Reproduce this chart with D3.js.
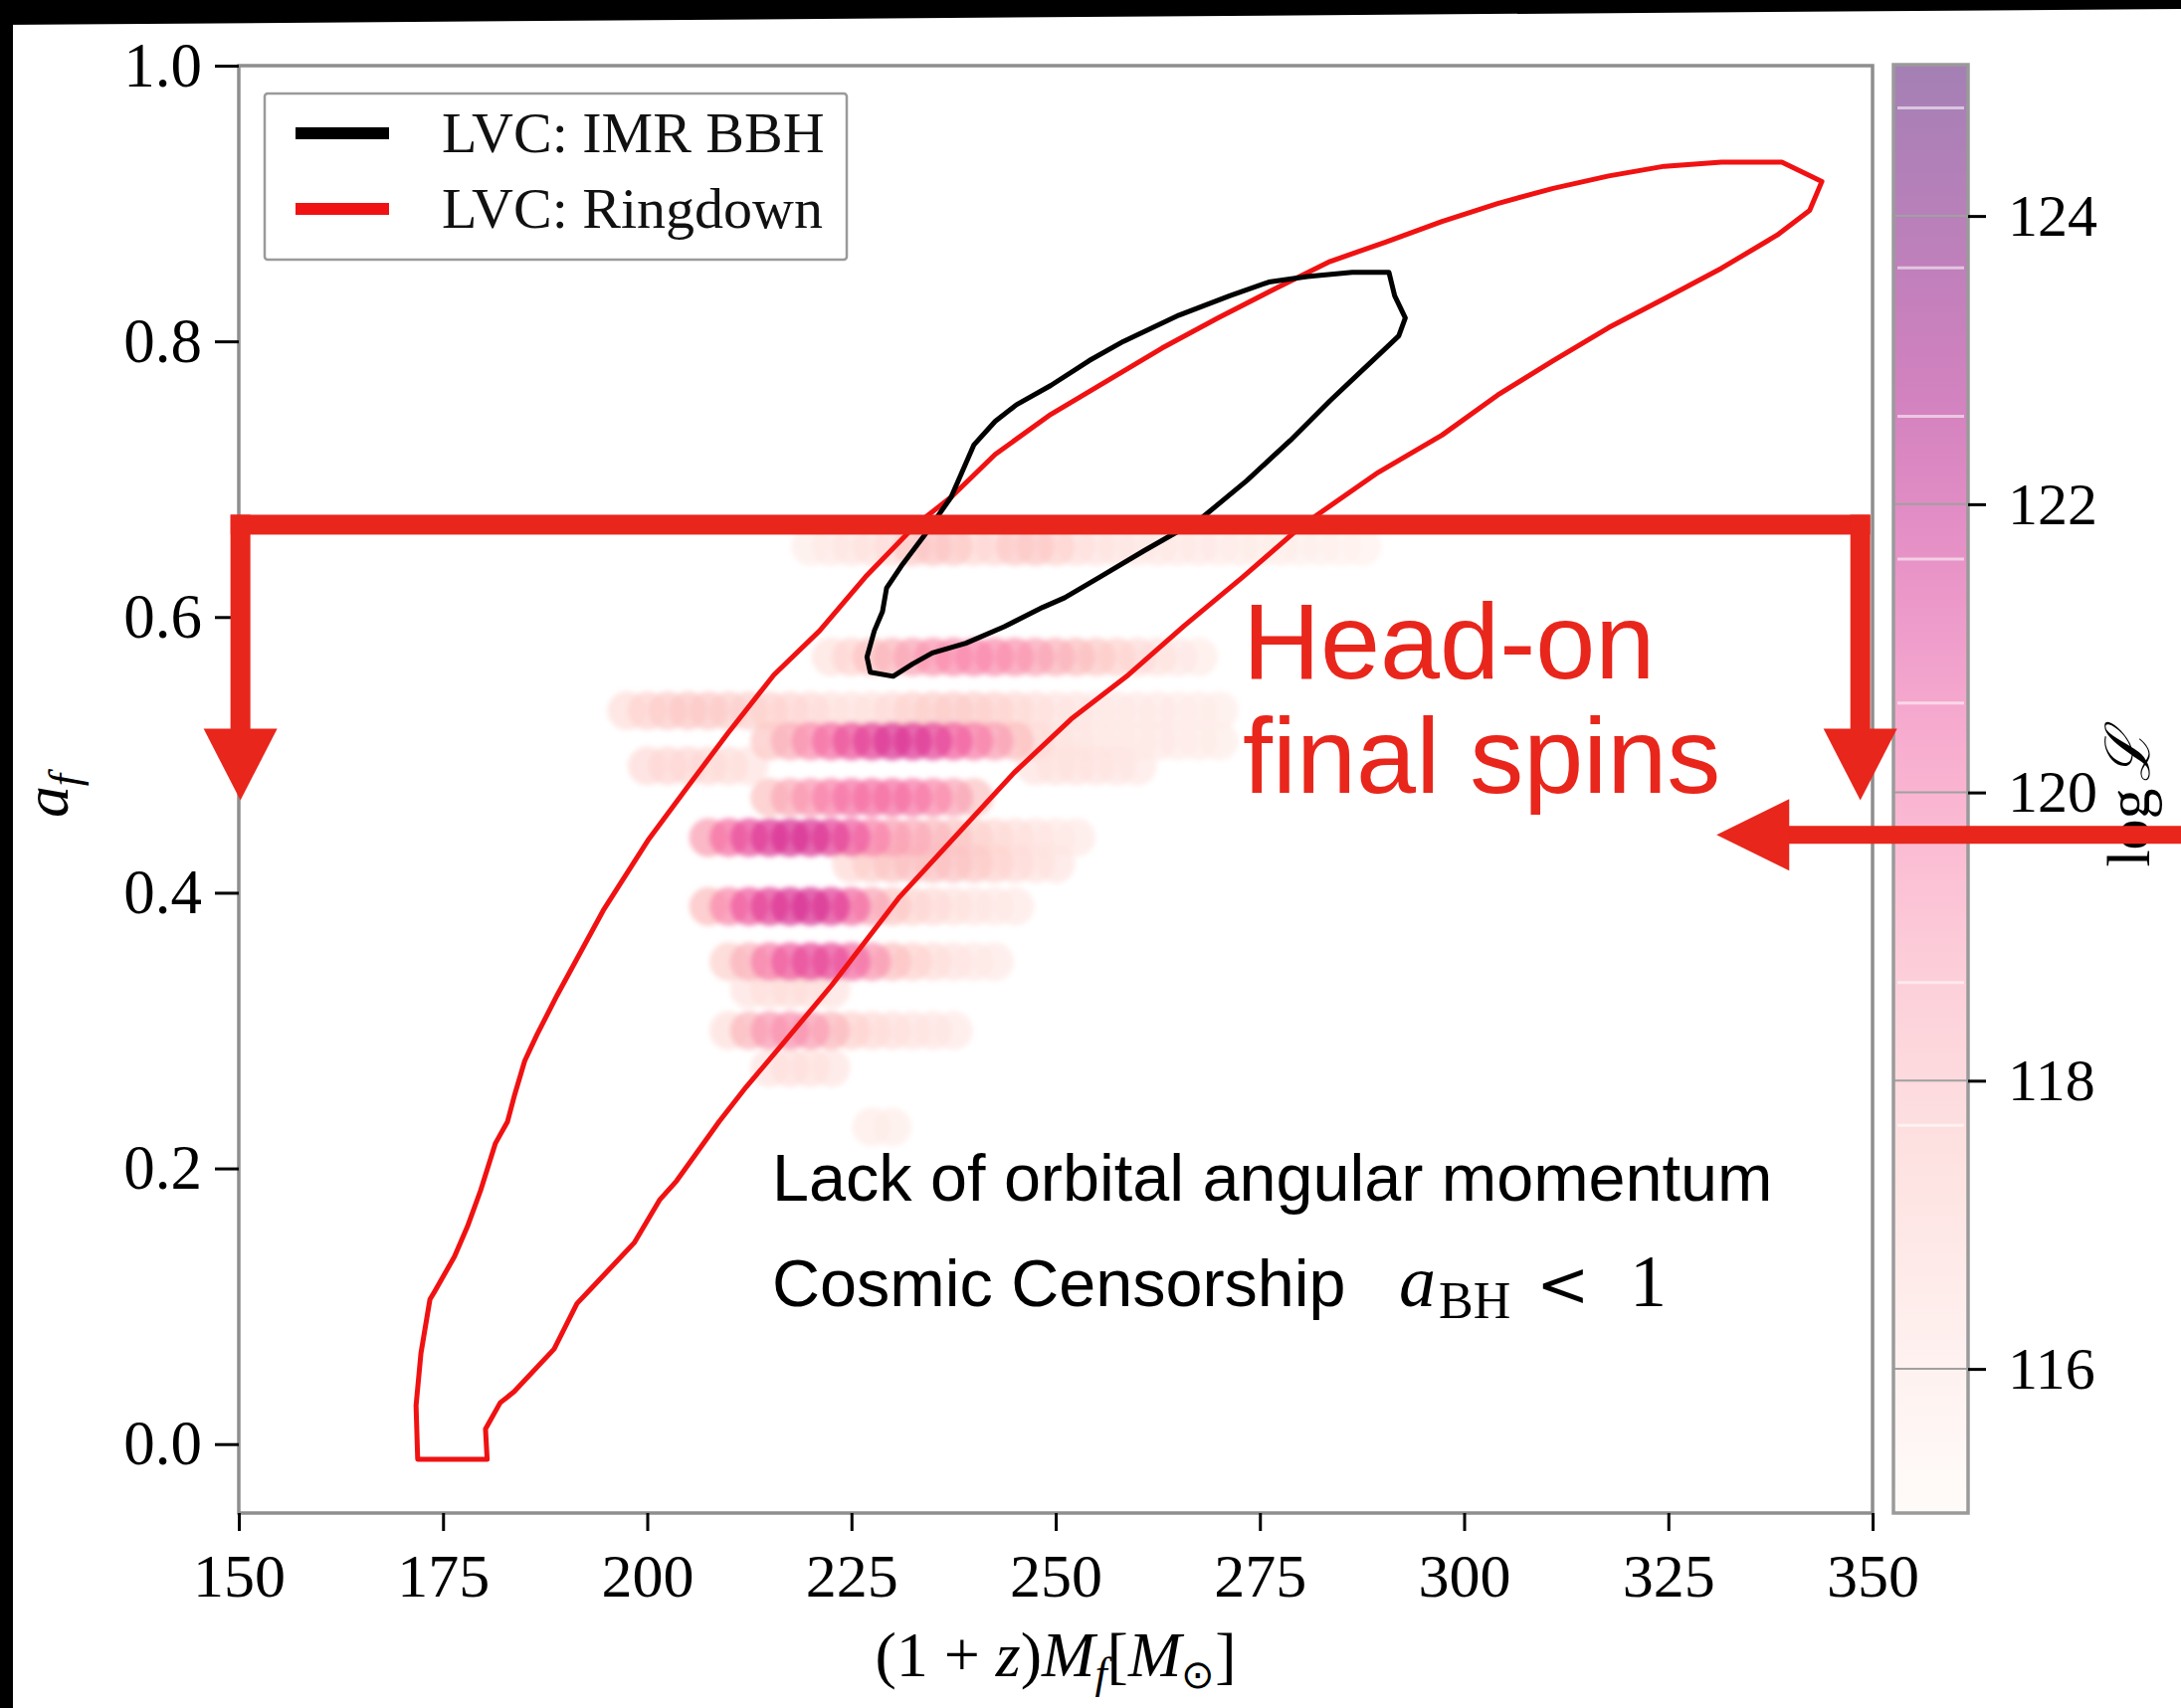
<!DOCTYPE html>
<html>
<head>
<meta charset="utf-8">
<script src="https://cdn.jsdelivr.net/npm/d3@7"></script>
<style>
  body { margin: 0; background: #fff; }
  svg { display: block; }
</style>
</head>
<body>
<div id="chart"></div>
<script>
// values
const xTicks = [150, 175, 200, 225, 250, 275, 300, 325, 350];
const yTicks = [0.0, 0.2, 0.4, 0.6, 0.8, 1.0];
const cTicks = [116, 118, 120, 122, 124];
// faint light stripes visible inside the colorbar
const cBreaks = [124.75, 123.64, 122.61, 121.62, 120.62, 118.68, 117.69];

const legendLabels = ["LVC: IMR BBH", "LVC: Ringdown"];
const legendColors = ["#000000", "#f01212"];

// LVC ringdown contour, [mass, spin]
const ringdown = [
  [171.9,-0.011],[180.4,-0.011],[180.2,0.011],[182.0,0.030],[183.7,0.038],[188.6,0.069],[191.4,0.102],
  [193.0,0.112],[198.4,0.146],[201.5,0.177],[203.6,0.191],[208.8,0.234],[212.1,0.259],[216.4,0.289],
  [222.6,0.333],[230.9,0.397],[237.9,0.442],[244.9,0.487],[251.9,0.526],[258.9,0.558],[265.8,0.594],
  [272.9,0.629],[280.3,0.667],[289.5,0.705],[297.3,0.732],[304.1,0.761],[310.9,0.786],[317.7,0.810],
  [324.5,0.831],[331.5,0.853],[338.3,0.877],[342.3,0.895],[343.8,0.916],
  [338.9,0.930],[331.5,0.930],[324.5,0.927],[317.7,0.920],[310.9,0.911],[304.1,0.900],[297.3,0.887],
  [290.4,0.872],[283.6,0.858],[276.8,0.838],[269.9,0.817],[263.0,0.795],[256.2,0.771],[249.4,0.747],
  [242.6,0.718],[237.2,0.687],[232.9,0.667],[226.7,0.629],[221.1,0.590],[215.5,0.558],[209.9,0.516],
  [205.1,0.478],[200.2,0.439],[194.6,0.387],[189.0,0.326],[186.5,0.297],[185.0,0.278],[183.7,0.252],
  [182.9,0.234],[181.4,0.218],[180.5,0.201],[179.6,0.184],[178.0,0.158],[176.4,0.136],[174.0,0.111],
  [173.4,0.105],[172.3,0.066],[171.7,0.028]
];

// LVC IMR BBH contour, [mass, spin]
const imr = [
  [227.3,0.560],[230.1,0.557],[232.5,0.566],[234.9,0.574],[239.0,0.581],[243.7,0.593],[248.4,0.607],
  [251.1,0.614],[255.4,0.629],[260.8,0.648],[267.9,0.672],[273.4,0.699],[278.7,0.728],[283.6,0.757],
  [287.0,0.776],[290.4,0.795],[292.0,0.804],[292.8,0.817],[291.5,0.833],[290.8,0.850],[286.3,0.850],
  [280.8,0.847],[276.1,0.843],[271.3,0.833],[265.1,0.819],[258.3,0.800],[254.1,0.786],[249.4,0.768],
  [245.2,0.754],[242.6,0.742],[240.0,0.725],[237.2,0.687],[233.9,0.659],[231.1,0.637],[229.3,0.621],
  [228.8,0.604],[227.8,0.590],[226.9,0.571]
];

// head-on scatter: one row per final spin, masses and log-likelihoods
const rowSpin = [0.651, 0.571, 0.532, 0.510, 0.492, 0.469, 0.440, 0.421, 0.390, 0.350, 0.330, 0.300, 0.273, 0.230];
const rowMass = [
  [220,222.5,225,227.5,230,232.5,235,237.5,240,242.5,245,247.5,250,252.5,255,257.5,260,262.5,265,267.5,270,272.5,275,277.5,280,282.5,285,287.5],
  [222.5,225,227.5,230,232.5,235,237.5,240,242.5,245,247.5,250,252.5,255,257.5,260,262.5,265,267.5],
  [197.5,200,202.5,205,207.5,210,212.5,215,217.5,220,222.5,225,227.5,230,232.5,235,237.5,240,242.5,245,247.5,250,252.5,255,257.5,260,262.5,265,267.5,270],
  [215,217.5,220,222.5,225,227.5,230,232.5,235,237.5,240,242.5,245,247.5,250,252.5,255,257.5,260,262.5,265,267.5,270],
  [200,202.5,205,207.5,210,212.5,247.5,250,252.5,255,257.5,260],
  [215,217.5,220,222.5,225,227.5,230,232.5,235,237.5,240],
  [207.5,210,212.5,215,217.5,220,222.5,225,227.5,230,232.5,235,237.5,240,242.5,245,247.5,250,252.5],
  [225,227.5,230,232.5,235,237.5,240,242.5,245,247.5,250],
  [207.5,210,212.5,215,217.5,220,222.5,225,227.5,230,232.5,235,237.5,240,242.5,245],
  [210,212.5,215,217.5,220,222.5,225,227.5,230,232.5,235,237.5,240,242.5],
  [212.5,215,217.5,220,222.5],
  [210,212.5,215,217.5,220,222.5,225,227.5,230,232.5,235,237.5],
  [215,217.5,220,222.5],
  [227.5,230]
];
const rowLogL = [
  [115.5,115.7,115.9,116.1,116.3,117.2,117.4,117.2,116.5,116.6,117.2,117.3,116.8,116.2,116,115.9,115.8,115.8,115.7,115.7,115.6,115.6,115.5,115.5,115.4,115.4,115.3,115.3],
  [116.1,116.7,117.5,118,118.5,118.9,119.1,119.2,119.1,118.9,118.5,118.1,117.7,117.2,116.8,116.4,116.1,115.8,115.6],
  [116.3,116.8,117.1,117.3,117.2,117,116.9,116.8,116.6,116.4,116.1,116,116.1,116.4,116.8,117,117.1,117,116.8,116.5,116.2,116,115.9,115.8,115.8,115.7,115.7,115.6,115.6,115.5],
  [117.3,118.2,119.1,119.9,120.5,120.9,121.2,121.1,120.8,120.2,119.5,118.7,117.7,116.5,116,115.9,115.8,115.8,115.7,115.7,115.6,115.6,115.5],
  [116.4,116.6,116.6,116.5,116.3,116,116,116.1,116.1,116,115.9,115.8],
  [117.5,118.3,118.9,119.4,119.7,119.8,119.8,119.6,119.2,118.5,117.5],
  [118.7,119.8,120.6,121.1,121.3,121.2,120.9,120.3,119.4,118.7,118.3,117.9,117.4,116.9,116.5,116.2,116,115.8,115.7],
  [116.5,117,117.4,117.6,117.6,117.5,117.2,116.8,116.4,116.1,115.9],
  [117.7,119.2,120.3,120.9,121.2,121.3,121,120,118.5,117.3,116.7,116.4,116.1,115.9,115.8,115.7],
  [116.9,118.1,119.5,120.3,120.7,120.6,119.9,118.9,117.6,116.8,116.3,116,115.8,115.7],
  [116,116.2,116.3,116.2,116],
  [116.2,117.9,118.8,119,118.7,117.9,116.8,116.4,116.2,116,115.9,115.7],
  [116,116.2,116.1,115.9],
  [115.6,115.5]
];

const W = 2192, H = 1717;
const serif = "'Liberation Serif', 'Times New Roman', serif";
const sans = "'Liberation Sans', Arial, Helvetica, sans-serif";
const annotRed = "#e9261c";

const svg = d3.select("#chart").append("svg").attr("width", W).attr("height", H);
svg.append("rect").attr("width", W).attr("height", H).attr("fill", "#fff");

const x = d3.scaleLinear().domain([150, 350]).range([240, 1882]);
const y = d3.scaleLinear().domain([-0.05, 1.0]).range([1521, 66]);
const c = d3.scaleLinear().domain([115, 125.05]).range([1521, 65]);
const cmap = v => d3.interpolateRdPu((v - 115) / 10.05);

const defs = svg.append("defs");
defs.append("clipPath").attr("id", "plotclip")
  .append("rect").attr("x", 240).attr("y", 66).attr("width", 1642).attr("height", 1455);
defs.append("filter").attr("id", "soft").attr("x", "-5%").attr("y", "-5%").attr("width", "110%").attr("height", "110%")
  .append("feGaussianBlur").attr("stdDeviation", 2.5);

// scatter points, lowest likelihood drawn first
const points = [];
rowSpin.forEach((s, i) => {
  rowMass[i].forEach((m, j) => points.push({ m: m, s: s, L: rowLogL[i][j] }));
});
points.sort((a, b) => a.L - b.L);

svg.append("g").attr("clip-path", "url(#plotclip)")
  .append("g").attr("filter", "url(#soft)")
  .selectAll("circle").data(points).join("circle")
    .attr("cx", d => x(d.m))
    .attr("cy", d => y(d.s))
    .attr("r", 19.5)
    .attr("fill", d => cmap(d.L))
    .attr("fill-opacity", 0.74);

// contours
const line = d3.line().x(d => x(d[0])).y(d => y(d[1])).curve(d3.curveLinearClosed);
svg.append("path").datum(ringdown).attr("d", line)
  .attr("fill", "none").attr("stroke", legendColors[1]).attr("stroke-width", 5).attr("stroke-linejoin", "round");
svg.append("path").datum(imr).attr("d", line)
  .attr("fill", "none").attr("stroke", legendColors[0]).attr("stroke-width", 5).attr("stroke-linejoin", "round");

// spines
svg.append("rect").attr("x", 240).attr("y", 66).attr("width", 1642).attr("height", 1455)
  .attr("fill", "none").attr("stroke", "#8e8e8e").attr("stroke-width", 3.5);

// axes
const gx = svg.append("g").attr("transform", "translate(0,1521)")
  .call(d3.axisBottom(x).tickValues(xTicks).tickSize(18).tickPadding(22).tickFormat(d3.format("d")));
gx.select(".domain").remove();
gx.selectAll("line").attr("stroke", "#000").attr("stroke-width", 3);
gx.selectAll("text").attr("font-family", serif).attr("font-size", 62).attr("fill", "#000");

const gy = svg.append("g").attr("transform", "translate(240,0)")
  .call(d3.axisLeft(y).tickValues(yTicks).tickSize(24).tickPadding(13).tickFormat(d3.format(".1f")));
gy.select(".domain").remove();
gy.selectAll("line").attr("stroke", "#000").attr("stroke-width", 3);
gy.selectAll("text").attr("font-family", serif).attr("font-size", 63).attr("fill", "#000");

// axis labels
const xl = svg.append("text").attr("x", 1061).attr("y", 1685).attr("text-anchor", "middle")
  .attr("font-family", serif).attr("font-size", 64).attr("fill", "#000");
xl.append("tspan").text("(1 + ");
xl.append("tspan").attr("font-style", "italic").text("z");
xl.append("tspan").text(")");
xl.append("tspan").attr("font-style", "italic").text("M");
xl.append("tspan").attr("font-style", "italic").attr("font-size", 44).attr("dy", 12).text("f");
xl.append("tspan").attr("dy", -12).text("[");
xl.append("tspan").attr("font-style", "italic").text("M");
xl.append("tspan").attr("font-size", 40).attr("dy", 12).text("⊙");
xl.append("tspan").attr("dy", -12).text("]");

const yl = svg.append("text").attr("transform", "translate(68,800) rotate(-90)").attr("text-anchor", "middle")
  .attr("font-family", serif).attr("font-size", 64).attr("font-style", "italic").attr("fill", "#000");
yl.append("tspan").text("a");
yl.append("tspan").attr("font-size", 44).attr("dy", 12).text("f");

// legend
const lg = svg.append("g");
lg.append("rect").attr("x", 266).attr("y", 94).attr("width", 585).attr("height", 167).attr("rx", 3)
  .attr("fill", "#fff").attr("stroke", "#9a9a9a").attr("stroke-width", 2.5);
legendLabels.forEach((lab, i) => {
  const ly = 134 + i * 76;
  lg.append("line").attr("x1", 297).attr("x2", 391).attr("y1", ly).attr("y2", ly)
    .attr("stroke", legendColors[i]).attr("stroke-width", 12);
  lg.append("text").attr("x", 444).attr("y", ly + 19).attr("font-family", serif).attr("font-size", 58)
    .attr("fill", "#111").text(lab);
});

// colorbar
const cx0 = 1903, cw = 75;
const grad = defs.append("linearGradient").attr("id", "cgrad")
  .attr("x1", 0).attr("x2", 0).attr("y1", 1).attr("y2", 0);
grad.selectAll("stop").data(d3.range(0, 1.0001, 0.04)).join("stop")
  .attr("offset", d => d)
  .attr("stop-color", d => cmap(115 + d * 10.05))
  .attr("stop-opacity", 0.5);
const cb = svg.append("g");
cb.append("rect").attr("x", cx0).attr("y", 65).attr("width", cw).attr("height", 1456).attr("fill", "url(#cgrad)");
cb.selectAll("line.cbreak").data(cBreaks).join("line").attr("class", "cbreak")
  .attr("x1", cx0 + 4).attr("x2", cx0 + cw - 4).attr("y1", d => c(d)).attr("y2", d => c(d))
  .attr("stroke", "#fff").attr("stroke-opacity", 0.55).attr("stroke-width", 3);
cb.selectAll("line.cgrid").data(cTicks).join("line").attr("class", "cgrid")
  .attr("x1", cx0).attr("x2", cx0 + cw).attr("y1", d => c(d)).attr("y2", d => c(d))
  .attr("stroke", "#a0a0a0").attr("stroke-width", 2);
cb.append("rect").attr("x", cx0).attr("y", 65).attr("width", cw).attr("height", 1456)
  .attr("fill", "none").attr("stroke", "#9a9a9a").attr("stroke-width", 3.5);
const gc = svg.append("g").attr("transform", `translate(${cx0 + cw},0)`)
  .call(d3.axisRight(c).tickValues(cTicks).tickSize(18).tickPadding(22).tickFormat(d3.format("d")));
gc.select(".domain").remove();
gc.selectAll("line").attr("stroke", "#000").attr("stroke-width", 3);
gc.selectAll("text").attr("font-family", serif).attr("font-size", 60).attr("fill", "#000");

const cl = svg.append("text").attr("transform", "translate(2160,803) rotate(-90)").attr("text-anchor", "middle")
  .attr("font-family", serif).attr("font-size", 62).attr("fill", "#000");
cl.append("tspan").text("log");
cl.append("tspan").attr("dx", 6).attr("font-style", "italic").text("ℒ");

// text annotations
const ann = svg.append("g");
ann.append("text").attr("x", 1249).attr("y", 682).attr("font-family", sans).attr("font-size", 108)
  .attr("fill", annotRed).text("Head-on");
ann.append("text").attr("x", 1249).attr("y", 797).attr("font-family", sans).attr("font-size", 108)
  .attr("fill", annotRed).text("final spins");
ann.append("text").attr("x", 776).attr("y", 1207).attr("font-family", sans).attr("font-size", 66.5)
  .attr("fill", "#000").text("Lack of orbital angular momentum");
ann.append("text").attr("x", 776).attr("y", 1313).attr("font-family", sans).attr("font-size", 66.5)
  .attr("fill", "#000").text("Cosmic Censorship");
const mth = ann.append("text").attr("y", 1313).attr("font-family", serif).attr("font-size", 74).attr("fill", "#000");
mth.append("tspan").attr("x", 1406).attr("font-style", "italic").text("a");
mth.append("tspan").attr("x", 1446).attr("dy", 12).attr("font-size", 52).text("BH");
mth.append("tspan").attr("x", 1544).attr("dy", -12).attr("font-family", "'DejaVu Serif', serif").attr("font-size", 64).text("<");
mth.append("tspan").attr("x", 1638).text("1");

// red arrows (drawn in data space: bar at spin 0.667, heads end at 0.467)
const barSpin = 0.667, headBase = 0.519, headTip = 0.467, arrowSpin = 0.442;
const ar = svg.append("g").attr("fill", annotRed);
const yb = y(barSpin);
ar.append("rect").attr("x", x(149)).attr("y", yb - 10).attr("width", x(349.7) - x(149)).attr("height", 20);
[150.2, 348.5].forEach(m => {
  const xc = x(m);
  ar.append("rect").attr("x", xc - 10).attr("y", yb - 10).attr("width", 20).attr("height", y(headBase) - yb + 12);
  ar.append("path").attr("d", `M${xc - 37},${y(headBase)}L${xc + 37},${y(headBase)}L${xc},${y(headTip)}Z`);
});
const ya = y(arrowSpin);
ar.append("rect").attr("x", x(339.6)).attr("y", ya - 9).attr("width", W - x(339.6)).attr("height", 18);
ar.append("path").attr("d", `M${x(339.8)},${ya - 36}L${x(339.8)},${ya + 36}L${x(330.9)},${ya}Z`);

// dark photo border
svg.append("path").attr("d", `M0,0L${W},0L${W},9L0,25Z`).attr("fill", "#000");
svg.append("rect").attr("x", 0).attr("y", 0).attr("width", 13).attr("height", H).attr("fill", "#000");
</script>
</body>
</html>
